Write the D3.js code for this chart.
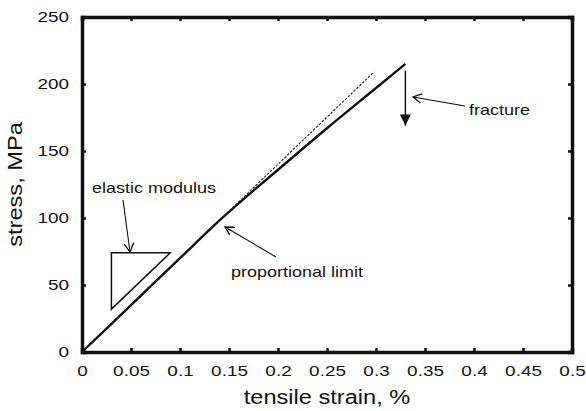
<!DOCTYPE html>
<html>
<head>
<meta charset="utf-8">
<script src="https://cdn.jsdelivr.net/npm/d3@7"></script>
<style>
  body { margin: 0; background: #fff; }
  text { font-family: "Liberation Sans", Arial, sans-serif; fill: #111; }
</style>
</head>
<body>
<div id="chart"></div>
<script>
// measured curve (strain %, stress MPa)
var strain = [0, 0.05, 0.1, 0.14, 0.2, 0.25, 0.3, 0.33];
var stress = [0, 35, 70, 98, 136, 167, 197, 215];

// linear elastic extension (dashed)
var dashStrain = [0.13, 0.298];
var dashStress = [91, 209];

// modulus triangle
var triStrain = [0.03, 0.09, 0.03];
var triStress = [74, 74, 32];

var xTicks = [0, 0.05, 0.1, 0.15, 0.2, 0.25, 0.3, 0.35, 0.4, 0.45, 0.5];
var yTicks = [0, 50, 100, 150, 200, 250];

var margin = {top: 17, right: 14, bottom: 59, left: 82};
var width = 586 - margin.left - margin.right;
var height = 411 - margin.top - margin.bottom;

var svg = d3.select("#chart")
  .append("svg")
  .attr("width", 586)
  .attr("height", 411)
  .append("g")
  .attr("transform", "translate(" + margin.left + "," + margin.top + ")");

var x = d3.scaleLinear().domain([0, 0.5]).range([0, width]);
var y = d3.scaleLinear().domain([0, 250]).range([height, 0]);

// the scanned figure has wide lettering, so stretch text horizontally
function stretch(sel, k) {
  sel.each(function() {
    var w = this.getComputedTextLength();
    d3.select(this).attr("textLength", w * k).attr("lengthAdjust", "spacingAndGlyphs");
  });
}

// arrow markers
var defs = svg.append("defs");
defs.append("marker")
  .attr("id", "open")
  .attr("viewBox", "0 0 10 10")
  .attr("refX", 9).attr("refY", 5)
  .attr("markerWidth", 10).attr("markerHeight", 10)
  .attr("markerUnits", "userSpaceOnUse")
  .attr("orient", "auto")
  .append("path")
  .attr("d", "M0,0 L9,5 L0,10")
  .attr("fill", "none")
  .attr("stroke", "#111")
  .attr("stroke-width", 1.3);
defs.append("marker")
  .attr("id", "filled")
  .attr("viewBox", "0 0 10 10")
  .attr("refX", 10).attr("refY", 5)
  .attr("markerWidth", 13).attr("markerHeight", 11)
  .attr("markerUnits", "userSpaceOnUse")
  .attr("orient", "auto")
  .append("path")
  .attr("d", "M0,0 L10,5 L0,10 Z")
  .attr("fill", "#111");

// axes: ticks point inward on all four sides
var tickLen = 4;
svg.append("g")
  .attr("class", "axis")
  .attr("transform", "translate(0," + height + ")")
  .call(d3.axisBottom(x).tickValues(xTicks).tickSize(-tickLen).tickPadding(13)
    .tickFormat(d => d3.format("~g")(d)));
svg.append("g")
  .attr("class", "axis")
  .call(d3.axisLeft(y).tickValues(yTicks).tickSize(-tickLen).tickPadding(13));
svg.append("g")
  .attr("class", "axis noText")
  .call(d3.axisTop(x).tickValues(xTicks).tickSize(-tickLen));
svg.append("g")
  .attr("class", "axis noText")
  .attr("transform", "translate(" + width + ",0)")
  .call(d3.axisRight(y).tickValues(yTicks).tickSize(-tickLen));

svg.selectAll(".axis .domain").attr("stroke", "#111").attr("stroke-width", 3.5);
svg.selectAll(".axis .tick line").attr("stroke", "#111").attr("stroke-width", 2.5);
svg.selectAll(".noText text").remove();
svg.selectAll(".axis text").style("font-size", "15.5px").attr("fill", "#111")
  .call(stretch, 1.22);

// curves
var line = d3.line().x(d => x(d[0])).y(d => y(d[1]));
var smooth = d3.line().x(d => x(d[0])).y(d => y(d[1])).curve(d3.curveMonotoneX);

svg.append("path")
  .attr("d", line(d3.zip(dashStrain, dashStress)))
  .attr("fill", "none")
  .attr("stroke", "#222")
  .attr("stroke-width", 1.1)
  .attr("stroke-dasharray", "2.5,1.5");

svg.append("path")
  .attr("d", smooth(d3.zip(strain, stress)))
  .attr("fill", "none")
  .attr("stroke", "#111")
  .attr("stroke-width", 2.4);

svg.append("path")
  .attr("d", line(d3.zip(triStrain, triStress)) + "Z")
  .attr("fill", "none")
  .attr("stroke", "#111")
  .attr("stroke-width", 1.5);

// fracture drop arrow
svg.append("line")
  .attr("x1", x(0.33)).attr("y1", y(210))
  .attr("x2", x(0.33)).attr("y2", y(169))
  .attr("stroke", "#111")
  .attr("stroke-width", 1.5)
  .attr("marker-end", "url(#filled)");

// annotations
function note(label, tx, ty, from, to) {
  svg.append("path")
    .attr("d", "M" + from[0] + "," + from[1] + " L" + to[0] + "," + to[1])
    .attr("fill", "none")
    .attr("stroke", "#111")
    .attr("stroke-width", 1.1)
    .attr("marker-end", "url(#open)");
  svg.append("text")
    .attr("x", tx).attr("y", ty)
    .style("font-size", "15px")
    .text(label)
    .call(stretch, 1.2);
}
note("fracture", 387, 98, [383, 89], [331, 80]);
note("elastic modulus", 10, 176, [41, 183], [48, 235]);
note("proportional limit", 149, 260, [194, 240], [143, 210]);

// axis titles
svg.append("text")
  .attr("x", width / 2)
  .attr("y", height + 52)
  .attr("text-anchor", "middle")
  .style("font-size", "20px")
  .text("tensile strain, %")
  .call(stretch, 1.18);
svg.append("text")
  .attr("transform", "translate(" + (-60) + "," + (height / 2) + ") rotate(-90)")
  .attr("text-anchor", "middle")
  .style("font-size", "20px")
  .text("stress, MPa")
  .call(stretch, 1.18);
</script>
</body>
</html>
